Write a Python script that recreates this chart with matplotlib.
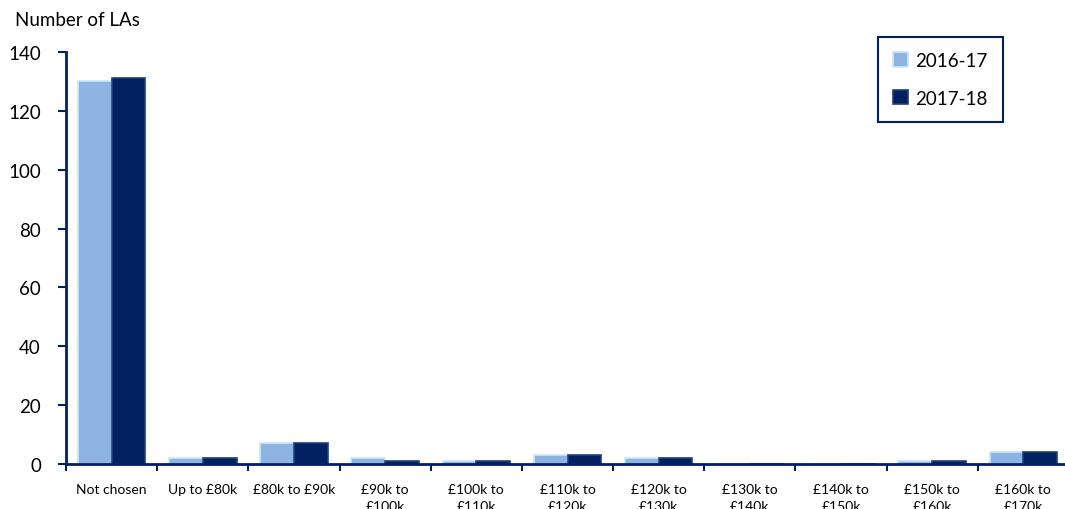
import numpy as np
import matplotlib.pyplot as plt

# data
categories = ['Not chosen', 'Up to £80k', '£80k to £90k', '£90k to\n£100k', '£100k to\n£110k',
              '£110k to\n£120k', '£120k to\n£130k', '£130k to\n£140k', '£140k to\n£150k',
              '£150k to\n£160k', '£160k to\n£170k']
vals_1617 = [130, 2, 7, 2, 1, 3, 2, 0, 0, 1, 4]
vals_1718 = [131, 2, 7, 1, 1, 3, 2, 0, 0, 1, 4]

plt.rcParams['font.family'] = ['Lato', 'DejaVu Sans']
navy = '#002060'

fig = plt.figure(figsize=(10.65, 5.1), dpi=100)
ax = fig.add_axes([66 / 1065, 45 / 510, 1 - 66 / 1065, 412 / 510])

x = np.arange(len(categories))
w = 0.37
ax.bar(x - w / 2, vals_1617, w, color='#8EB4E3', edgecolor='#C9E8FA', linewidth=1.2, label='2016-17')
ax.bar(x + w / 2, vals_1718, w, color=navy, edgecolor='#1F3F78', linewidth=1.2, label='2017-18')

ax.set_ylim(0, 140)
ax.set_xlim(-0.5, 10.456)
ax.set_yticks(range(0, 141, 20))
ax.tick_params(axis='y', labelsize=13.5, length=6, width=1.5, color=navy, pad=12)

# category labels centred, ticks at boundaries
ax.set_xticks(x)
ax.set_xticklabels(categories, fontsize=10, linespacing=1.45)
ax.tick_params(axis='x', which='major', length=0, pad=14)
ax.set_xticks(np.arange(-0.5, 10.0, 1), minor=True)
ax.tick_params(axis='x', which='minor', length=5, width=1.5, color=navy)

for s in ['top', 'right']:
    ax.spines[s].set_visible(False)
for s in ['left', 'bottom']:
    ax.spines[s].set_color(navy)
    ax.spines[s].set_linewidth(2)

fig.text(15 / 1065, 1 - 21 / 510, 'Number of LAs', fontsize=13.5, va='center', ha='left')

leg = ax.legend(loc='upper left', bbox_to_anchor=((878 - 66) / 999, 1.0 + 15 / 412), borderaxespad=0,
                fontsize=13.5, frameon=True, fancybox=False, borderpad=0.8, labelspacing=1.1,
                handlelength=0.8, handleheight=0.8, handletextpad=0.4)
leg.get_frame().set_edgecolor(navy)
leg.get_frame().set_linewidth(1.5)
leg.get_frame().set_alpha(1)

plt.savefig('out.png', dpi=100)
plt.close()
